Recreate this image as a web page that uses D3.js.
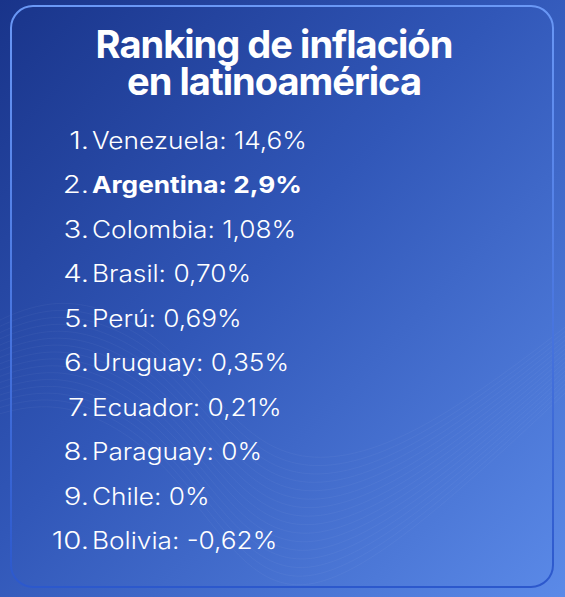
<!DOCTYPE html>
<html>
<head>
<meta charset="utf-8">
<script src="https://cdn.jsdelivr.net/npm/d3@7"></script>
<style>
  html, body { margin: 0; padding: 0; background: #2a4aa6; }
  svg { display: block; }
</style>
</head>
<body>
<svg id="chart"></svg>
<script>
const titleLines = ['Ranking de inflación', 'en latinoamérica'];
const ranks = [1, 2, 3, 4, 5, 6, 7, 8, 9, 10];
const countries = ['Venezuela', 'Argentina', 'Colombia', 'Brasil', 'Perú',
    'Uruguay', 'Ecuador', 'Paraguay', 'Chile', 'Bolivia'];
const values = ['14,6%', '2,9%', '1,08%', '0,70%', '0,69%',
    '0,35%', '0,21%', '0%', '0%', '-0,62%'];
const highlighted = ['Argentina'];

const width = 565;
const height = 597;
const font = 'Inter, "Noto Sans", sans-serif';
const svg = d3.select('#chart')
    .attr('width', width)
    .attr('height', height);

const defs = svg.append('defs');

const bg = defs.append('linearGradient')
    .attr('id', 'bg')
    .attr('x1', 0).attr('y1', 0)
    .attr('x2', 1).attr('y2', 1);
bg.append('stop').attr('offset', 0).attr('stop-color', '#19348a');
bg.append('stop').attr('offset', 0.45).attr('stop-color', '#3157b8');
bg.append('stop').attr('offset', 1).attr('stop-color', '#5b8ae8');

const border = defs.append('linearGradient')
    .attr('id', 'border')
    .attr('x1', 0).attr('y1', 0)
    .attr('x2', 0).attr('y2', 1);
border.append('stop').attr('offset', 0).attr('stop-color', '#6a98f6');
border.append('stop').attr('offset', 1).attr('stop-color', '#2c58cc');

svg.append('rect')
    .attr('width', width)
    .attr('height', height)
    .attr('fill', 'url(#bg)');

// faint wave decoration, lower left
const wave = d3.line().curve(d3.curveBasis);
for (let k = 0; k < 16; k++) {
    svg.append('path')
        .attr('d', wave([[-20, 330 + k * 6], [60, 290 + k * 7], [160, 330 + k * 8], [230, 420 + k * 9], [300, 470 + k * 9], [420, 440 + k * 6], [600, 300 + k * 4]]))
        .attr('fill', 'none')
        .attr('stroke', '#ffffff')
        .attr('stroke-opacity', 0.04)
        .attr('stroke-width', 1);
}

svg.append('rect')
    .attr('x', 11)
    .attr('y', 6)
    .attr('width', 542)
    .attr('height', 581)
    .attr('rx', 22)
    .attr('fill', 'none')
    .attr('stroke', 'url(#border)')
    .attr('stroke-width', 2);

// title, stretched horizontally to the width of the original lettering
const titleG = svg.append('g')
    .attr('fill', '#ffffff')
    .attr('font-family', font)
    .attr('font-weight', 700)
    .attr('font-size', 38)
    .attr('letter-spacing', -1);

const titles = titleG.selectAll('g')
    .data(titleLines)
    .join('g')
    .attr('transform', (d, i) => `translate(274, ${58 + i * 37})`);

const titleText = titles.append('text')
    .attr('text-anchor', 'middle')
    .text(d => d);

const titleW = titleText.node().getComputedTextLength();
const titleSx = 357 / titleW;
titles.attr('transform', (d, i) => `translate(274, ${58 + i * 37}) scale(${titleSx}, 1)`);

const yScale = d3.scalePoint()
    .domain(ranks)
    .range([149, 549]);

const rows = svg.selectAll('.row')
    .data(ranks.map((r, i) => ({ rank: r, country: countries[i], value: values[i] })))
    .join('g')
    .attr('class', 'row')
    .attr('transform', d => `translate(0, ${yScale(d.rank)})`)
    .attr('fill', '#ffffff')
    .attr('font-family', font)
    .attr('font-size', 23.5)
    .attr('font-weight', 300);

const numG = rows.append('g');
numG.append('text')
    .attr('text-anchor', 'end')
    .text(d => d.rank + '.');

const labelG = rows.append('g');
const labels = labelG.append('text')
    .attr('font-weight', d => highlighted.includes(d.country) ? 700 : 300)
    .text(d => `${d.country}: ${d.value}`);

const rowW = labels.node().getComputedTextLength();
const rowSx = 215 / rowW;
numG.attr('transform', `translate(89, 0) scale(${rowSx * 1.12}, 1)`);
labelG.attr('transform', `translate(92, 0) scale(${rowSx}, 1)`);
</script>
</body>
</html>
